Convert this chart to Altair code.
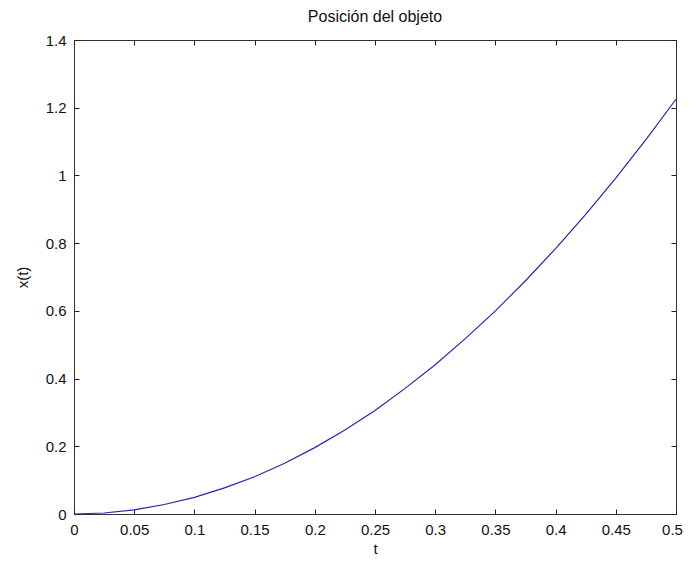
import altair as alt
import pandas as pd

t_vals = [0.0, 0.025, 0.05, 0.075, 0.1, 0.125, 0.15, 0.175, 0.2, 0.225, 0.25,
          0.275, 0.3, 0.325, 0.35, 0.375, 0.4, 0.425, 0.45, 0.475, 0.5]
x_vals = [0.0, 0.003, 0.012, 0.028, 0.049, 0.077, 0.110, 0.150, 0.196, 0.248, 0.306,
          0.371, 0.441, 0.518, 0.600, 0.689, 0.784, 0.885, 0.992, 1.106, 1.225]
x_ticks = [0, 0.05, 0.1, 0.15, 0.2, 0.25, 0.3, 0.35, 0.4, 0.45, 0.5]
y_ticks = [0, 0.2, 0.4, 0.6, 0.8, 1.0, 1.2, 1.4]

df = pd.DataFrame({"t": t_vals, "x": x_vals})

FONT = "Liberation Sans"
TICK = 5

xs = alt.Scale(domain=[0, 0.5], nice=False, zero=False)
ys = alt.Scale(domain=[0, 1.4], nice=False, zero=False)

main = alt.Chart(df).mark_line(color="#2626b0", strokeWidth=1.2).encode(
    x=alt.X("t:Q", scale=xs, title="t",
            axis=alt.Axis(orient="bottom", values=x_ticks, format="~g", grid=False,
                          domain=False, offset=-TICK, tickSize=TICK, tickColor="#222",
                          labelFont=FONT, labelFontSize=15, labelColor="#111",
                          labelPadding=8, labelFlush=False, labelOverlap=False,
                          labelOffset={"expr": "datum.value >= 0.5 ? -4 : 0"},
                          titleFont=FONT, titleFontSize=15, titleFontWeight="normal",
                          titleColor="#111", titlePadding=4)),
    y=alt.Y("x:Q", scale=ys, title="x(t)",
            axis=alt.Axis(orient="left", values=y_ticks, format="~g", grid=False,
                          domain=False, offset=-TICK, tickSize=TICK, tickColor="#222",
                          labelFont=FONT, labelFontSize=15, labelColor="#111",
                          labelPadding=8, labelFlush=False, labelOverlap=False,
                          titleFont=FONT, titleFontSize=15, titleFontWeight="normal",
                          titleColor="#111", titlePadding=15)),
)

mirror = alt.Chart(df).mark_line(opacity=0).encode(
    x=alt.X("t:Q", scale=xs, title=None,
            axis=alt.Axis(orient="top", values=x_ticks, labels=False, grid=False,
                          domain=False, offset=-TICK, tickSize=TICK, tickColor="#222")),
    y=alt.Y("x:Q", scale=ys, title=None,
            axis=alt.Axis(orient="right", values=y_ticks, labels=False, grid=False,
                          domain=False, offset=-TICK, tickSize=TICK, tickColor="#222")),
)

chart = alt.layer(main, mirror).resolve_axis(x="independent", y="independent").properties(
    width=602, height=474,
    autosize=alt.AutoSizeParams(type="none"),
    padding={"left": 66, "top": 32, "right": 7, "bottom": 43},
    title=alt.TitleParams("Posición del objeto", font=FONT, fontSize=16,
                          fontWeight="normal", color="#111", offset=8),
).configure_view(stroke="#333", strokeWidth=1)

chart.save("out.html", embed_options={"renderer": "svg", "actions": False})
